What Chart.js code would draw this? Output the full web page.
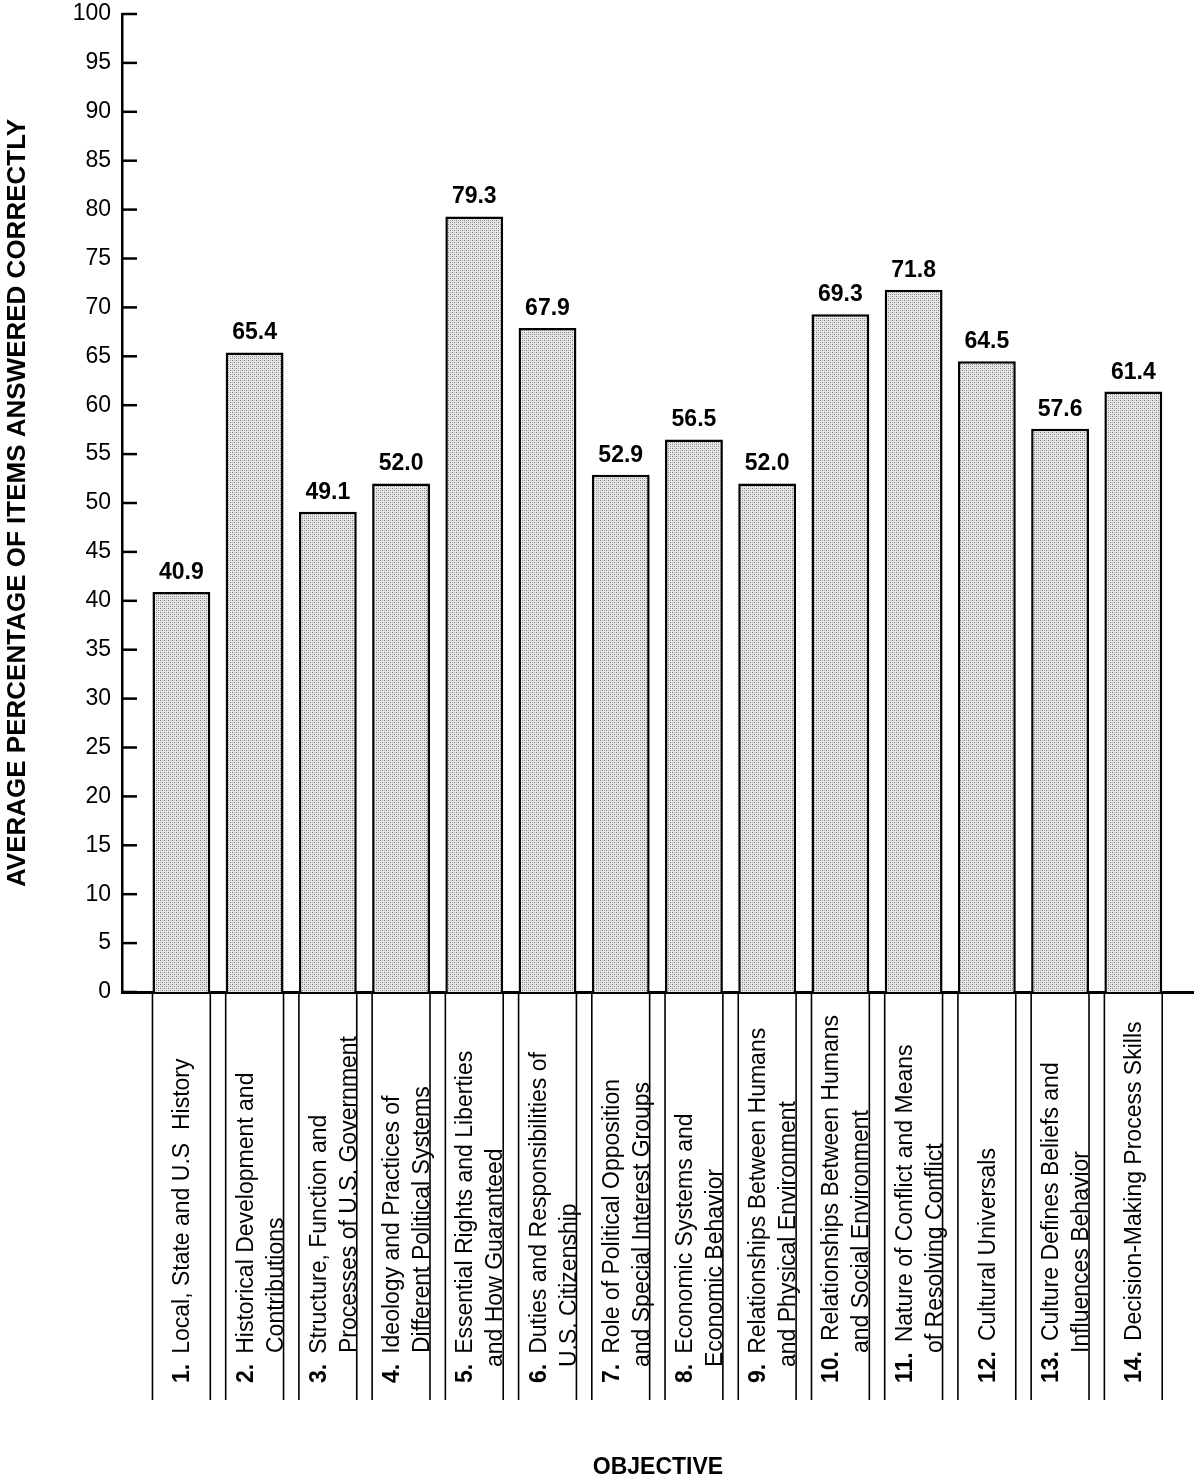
<!DOCTYPE html>
<html>
<head>
<meta charset="utf-8">
<script src="https://cdn.jsdelivr.net/npm/chart.js@4.4.1/dist/chart.umd.min.js"></script>
<style>
  html, body { margin: 0; padding: 0; background: #ffffff; }
  #wrap { width: 1194px; height: 1481px; position: relative; }
</style>
</head>
<body>
<div id="wrap"><canvas id="c" width="1194" height="1481"></canvas></div>
<script>
// ---- DATA ----
const objectiveNumbers = ["1.", "2.", "3.", "4.", "5.", "6.", "7.", "8.", "9.", "10.", "11.", "12.", "13.", "14."];
const objectiveLine1 = [
  "Local, State and U.S  History",
  "Historical Development and",
  "Structure, Function and",
  "Ideology and Practices of",
  "Essential Rights and Liberties",
  "Duties and Responsibilities of",
  "Role of Political Opposition",
  "Economic Systems and",
  "Relationships Between Humans",
  "Relationships Between Humans",
  "Nature of Conflict and Means",
  "Cultural Universals",
  "Culture Defines Beliefs and",
  "Decision-Making Process Skills"
];
const objectiveLine2 = [
  "",
  "Contributions",
  "Processes of U.S. Government",
  "Different Political Systems",
  "and How Guaranteed",
  "U.S. Citizenship",
  "and Special Interest Groups",
  "Economic Behavior",
  "and Physical Environment",
  "and Social Environment",
  "of Resolving Conflict",
  "",
  "Influences Behavior",
  ""
];
const objectivePositions = [1, 2, 3, 4, 5, 6, 7, 8, 9, 10, 11, 12, 13, 14];
const percentCorrect = [40.9, 65.4, 49.1, 52.0, 79.3, 67.9, 52.9, 56.5, 52.0, 69.3, 71.8, 64.5, 57.6, 61.4];
const valueLabels = ["40.9", "65.4", "49.1", "52.0", "79.3", "67.9", "52.9", "56.5", "52.0", "69.3", "71.8", "64.5", "57.6", "61.4"];
const yTickValues = [0, 5, 10, 15, 20, 25, 30, 35, 40, 45, 50, 55, 60, 65, 70, 75, 80, 85, 90, 95, 100];

// ---- STYLE ----
const SANS = "'Liberation Sans', Arial, sans-serif";
const secondLineIndent = [0, 30, 30, 30, 16, 16, 16, 16, 16, 30, 30, 0, 30, 0];

function stipple() {
  const p = document.createElement('canvas');
  p.width = 4; p.height = 4;
  const g = p.getContext('2d');
  g.fillStyle = '#e8e8e8'; g.fillRect(0, 0, 4, 4);
  g.fillStyle = '#767676'; g.fillRect(0, 0, 1, 1); g.fillRect(2, 2, 1, 1);
  g.fillStyle = '#aaaaaa'; g.fillRect(2, 0, 1, 1); g.fillRect(0, 2, 1, 1);
  return g.createPattern(p, 'repeat');
}

const ctx0 = document.getElementById('c').getContext('2d');
const pattern = stipple();

const decorPlugin = {
  id: 'decor',
  afterDatasetsDraw(chart) {
    const ctx = chart.ctx;
    const ys = chart.scales.y;
    const area = chart.chartArea;
    const meta = chart.getDatasetMeta(0);
    ctx.save();
    // inward tick marks on the y axis
    ctx.strokeStyle = '#000';
    ctx.lineWidth = 2.5;
    yTickValues.forEach(v => {
      const y = ys.getPixelForValue(v);
      ctx.beginPath();
      ctx.moveTo(area.left, y);
      ctx.lineTo(area.left + 15, y);
      ctx.stroke();
    });
    // value labels above bars
    ctx.fillStyle = '#000';
    ctx.textAlign = 'center';
    ctx.textBaseline = 'alphabetic';
    ctx.font = "bold 23px " + SANS;
    meta.data.forEach((bar, i) => {
      ctx.fillText(valueLabels[i], bar.x, bar.y - 13);
    });
    // label boxes below the axis
    const boxTop = area.bottom;
    const boxBottom = 1400;
    ctx.lineWidth = 1.6;
    meta.data.forEach((bar, i) => {
      const l = bar.x - bar.width / 2, r = bar.x + bar.width / 2;
      ctx.beginPath();
      ctx.moveTo(l, boxTop); ctx.lineTo(l, boxBottom);
      ctx.moveTo(r, boxTop); ctx.lineTo(r, boxBottom);
      ctx.stroke();
      const twoLines = objectiveLine2[i] !== "";
      const base1 = twoLines ? bar.x - 2 : bar.x + 8;
      const base2 = bar.x + 28;
      const startY = 1383;
      ctx.save();
      ctx.translate(base1, startY);
      ctx.rotate(-Math.PI / 2);
      ctx.textAlign = 'left';
      ctx.font = "bold 23px " + SANS;
      ctx.fillText(objectiveNumbers[i], 0, 0);
      const nw = ctx.measureText(objectiveNumbers[i]).width;
      ctx.font = "23px " + SANS;
      ctx.fillText(objectiveLine1[i], nw + 10, 0);
      ctx.restore();
      if (twoLines) {
        ctx.save();
        ctx.translate(base2, startY);
        ctx.rotate(-Math.PI / 2);
        ctx.textAlign = 'left';
        ctx.font = "23px " + SANS;
        ctx.fillText(objectiveLine2[i], secondLineIndent[i], 0);
        ctx.restore();
      }
    });
    ctx.restore();
  }
};

new Chart(ctx0, {
  type: 'bar',
  data: {
    datasets: [{
      data: objectivePositions.map((x, i) => ({ x: x, y: percentCorrect[i] })),
      backgroundColor: pattern,
      borderColor: '#000',
      borderWidth: 2.5,
      borderSkipped: 'bottom',
      barPercentage: 1.0,
      categoryPercentage: 0.79
    }]
  },
  options: {
    responsive: false,
    animation: false,
    devicePixelRatio: 1,
    layout: { padding: { top: 14, right: 0, bottom: 0, left: 0 } },
    plugins: { legend: { display: false }, tooltip: { enabled: false } },
    scales: {
      x: {
        type: 'linear',
        offset: false,
        min: 0.189,
        max: 14.829,
        grid: { display: false, drawTicks: false, offset: false },
        border: { display: true, color: '#000', width: 3 },
        ticks: { display: false },
        title: {
          display: true,
          text: 'OBJECTIVE',
          color: '#000',
          font: { family: SANS, size: 23, weight: 'bold' },
          padding: { top: 0, bottom: 0 }
        },
        afterFit(scale) { scale.height = 489; }
      },
      y: {
        min: 0,
        max: 100,
        grid: { display: false, drawTicks: false },
        border: { display: true, color: '#000', width: 2.5 },
        ticks: {
          stepSize: 5,
          color: '#000',
          padding: 11,
          font: { family: SANS, size: 23 }
        },
        title: {
          display: true,
          text: 'AVERAGE PERCENTAGE OF ITEMS ANSWERED CORRECTLY',
          color: '#000',
          font: { family: SANS, size: 26, weight: 'bold' },
          padding: { top: 2, bottom: 0 }
        },
        afterFit(scale) {
          scale.width = 122;
          scale.paddingTop = 0;
          scale.paddingBottom = 0;
        }
      }
    }
  },
  plugins: [decorPlugin]
});
</script>
</body>
</html>
